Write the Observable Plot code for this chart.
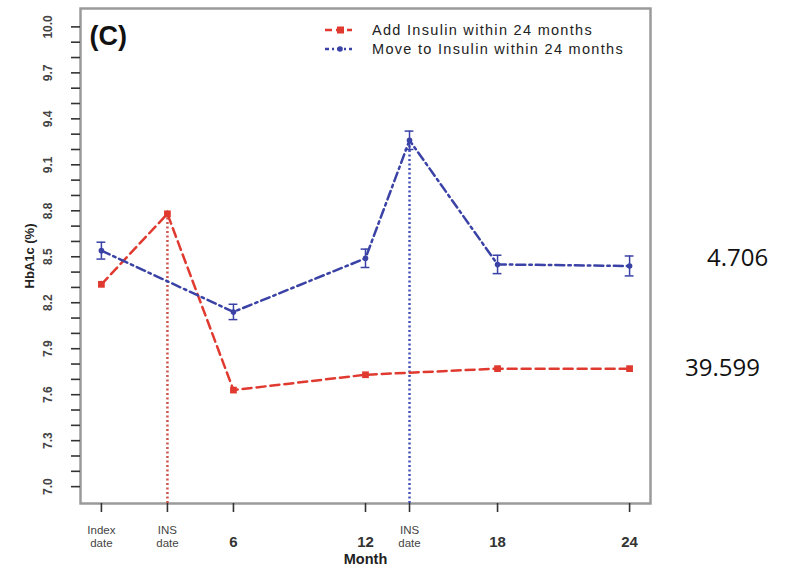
<!DOCTYPE html>
<html><head><meta charset="utf-8">
<script src="https://cdn.jsdelivr.net/npm/d3@7"></script>
<script src="https://cdn.jsdelivr.net/npm/@observablehq/plot@0.6"></script>
<style>
body{margin:0;background:#fff;}
#chart{position:relative;width:787px;height:566px;}
</style></head><body><div id="chart"></div>
<script>
// ---- data ----
const xTicks = [0, 3, 6, 12, 14, 18, 24];
const xTickLabels = ["Index\ndate", "INS\ndate", "6", "12", "INS\ndate", "18", "24"];
const yTickLabels = [7.0, 7.3, 7.6, 7.9, 8.2, 8.5, 8.8, 9.1, 9.4, 9.7, 10.0];
const addMonths = [0, 3, 6, 12, 18, 24];
const addValues = [8.32, 8.78, 7.63, 7.73, 7.77, 7.77];
const addSE = [0.02, 0.02, 0.01, 0.01, 0.01, 0.01];
const moveMonths = [0, 6, 12, 14, 18, 24];
const moveValues = [8.54, 8.14, 8.49, 9.26, 8.45, 8.44];
const moveSE = [0.055, 0.05, 0.06, 0.06, 0.06, 0.065];
const insDates = [3, 14];
const seriesNames = ["Add Insulin within 24 months", "Move to Insulin within 24 months"];
const sideLabels = ["4.706", "39.599"];
const sideLevels = [8.49, 7.77];

// ---- styles ----
const RED = "#e03a30", BLUE = "#3a42a6";
const RED_V = "#cc564c", BLUE_V = "#4753b8";
const yDomain = [6.89, 10.12];
const xDomain = [-0.95, 24.95];

const add = addMonths.map((m, i) => ({x: m, y: addValues[i], se: addSE[i]}));
const move = moveMonths.map((m, i) => ({x: m, y: moveValues[i], se: moveSE[i]}));
const addIns = add.filter(d => d.x === insDates[0]);
const moveIns = move.filter(d => d.x === insDates[1]);
const xt = xTicks.map((t, i) => ({x: t, label: xTickLabels[i]}));
const xtWords = xt.filter(d => isNaN(+d.label));
const xtNums = xt.filter(d => !isNaN(+d.label));
const minorY = d3.range(70, 101).map(d => d / 10);

const series = [
  {name: seriesNames[0], color: RED, dash: "7,4", symbol: "square"},
  {name: seriesNames[1], color: BLUE, dash: "4,3,2,3", symbol: "circle"}
];

function legend(index, scales, values, dims) {
  const g = d3.create("svg:g").attr("font-family", "Liberation Sans, Arial, sans-serif")
    .attr("text-anchor", "start");
  series.forEach((s, i) => {
    const y = 30 + i * 19;
    g.append("line").attr("x1", 325).attr("x2", 352).attr("y1", y).attr("y2", y)
      .attr("stroke", s.color).attr("stroke-width", 2.5).attr("stroke-dasharray", s.dash);
    if (s.symbol === "square") {
      g.append("rect").attr("x", 337).attr("y", y - 3.5).attr("width", 7).attr("height", 7).attr("fill", s.color);
    } else {
      g.append("circle").attr("cx", 340).attr("cy", y).attr("r", 2.8).attr("fill", s.color);
    }
    g.append("text").attr("x", 372).attr("y", y).attr("dy", "0.35em").attr("text-anchor", "start")
      .attr("font-size", 14.5).attr("letter-spacing", "1.3px").attr("fill", "#222").text(s.name);
  });
  return g.node();
}

const chart = Plot.plot({
  width: 787, height: 566,
  marginLeft: 80, marginRight: 137, marginTop: 8, marginBottom: 63,
  x: {domain: xDomain},
  y: {domain: yDomain},
  style: {background: "#fff", fontFamily: "Liberation Sans, Arial, sans-serif", overflow: "visible"},
  marks: [
    Plot.frame({stroke: "#9a9a9a", strokeWidth: 2.5}),
    Plot.axisY({ticks: minorY, tickSize: 9, tickFormat: () => "", label: null, stroke: "#333", strokeWidth: 1.6}),
    Plot.text(yTickLabels, {y: d => d, frameAnchor: "left", textAnchor: "middle", dx: -32, rotate: -90,
      text: d => d.toFixed(1), fontSize: 12, fontWeight: "bold", fill: "#444"}),
    Plot.axisX({ticks: xTicks, tickSize: 9, tickFormat: () => "", label: null, stroke: "#333", strokeWidth: 1.6}),
    Plot.text(xtWords, {x: "x", text: "label", frameAnchor: "bottom", lineAnchor: "middle", dy: 32.5,
      fontSize: 11.5, lineHeight: 1.15, fill: "#444", letterSpacing: "1px"}),
    Plot.text(xtNums, {x: "x", text: "label", frameAnchor: "bottom", lineAnchor: "middle", dy: 39,
      fontSize: 15, fontWeight: "bold", fill: "#333", letterSpacing: "1px"}),
    Plot.text(["Month"], {frameAnchor: "bottom", lineAnchor: "middle", dy: 56, fontSize: 14.5, fontWeight: "bold",
      fill: "#222", letterSpacing: "1px"}),
    Plot.text(["HbA1c (%)"], {frameAnchor: "left", textAnchor: "middle", dx: -51, rotate: -90,
      fontSize: 13, fontWeight: "bold", fill: "#222"}),
    Plot.text(["(C)"], {frameAnchor: "top-left", textAnchor: "start", lineAnchor: "middle", dx: 9, dy: 28,
      fontSize: 27, fontWeight: "bold", fill: "#111"}),
    // vertical INS date lines
    Plot.ruleX(addIns, {x: "x", y1: yDomain[0], y2: "y", stroke: RED_V, strokeWidth: 2.5, strokeDasharray: "2,2.5"}),
    Plot.ruleX(moveIns, {x: "x", y1: yDomain[0], y2: "y", stroke: BLUE_V, strokeWidth: 2.5, strokeDasharray: "2,2.5"}),
    // series lines
    Plot.line(add, {x: "x", y: "y", stroke: RED, strokeWidth: 2.5, strokeDasharray: "9,5"}),
    Plot.line(move, {x: "x", y: "y", stroke: BLUE, strokeWidth: 2.5, strokeDasharray: "9,4,2.5,4"}),
    // error bars
    Plot.ruleX(add, {x: "x", y1: d => d.y - d.se, y2: d => d.y + d.se, stroke: RED, strokeWidth: 1.5}),
    Plot.ruleX(move, {x: "x", y1: d => d.y - d.se, y2: d => d.y + d.se, stroke: BLUE, strokeWidth: 1.5}),
    Plot.ruleY(move, {y: d => d.y + d.se, x1: d => d.x - 0.2, x2: d => d.x + 0.2, stroke: BLUE, strokeWidth: 1.5}),
    Plot.ruleY(move, {y: d => d.y - d.se, x1: d => d.x - 0.2, x2: d => d.x + 0.2, stroke: BLUE, strokeWidth: 1.5}),
    // markers
    Plot.dot(add, {x: "x", y: "y", symbol: "square", r: 3.8, fill: RED}),
    Plot.dot(move, {x: "x", y: "y", r: 2.8, fill: BLUE}),
    legend,
    // side numbers
    Plot.text([sideLabels[0]], {y: () => sideLevels[0], frameAnchor: "right", dx: 87, textAnchor: "middle",
      fontSize: 24, fontFamily: "Open Sans", fill: "#111"}),
    Plot.text([sideLabels[1]], {y: () => sideLevels[1], frameAnchor: "right", dx: 72, textAnchor: "middle",
      fontSize: 24, fontFamily: "Open Sans", fill: "#111"})
  ]
});
document.getElementById("chart").appendChild(chart);
</script></body></html>
